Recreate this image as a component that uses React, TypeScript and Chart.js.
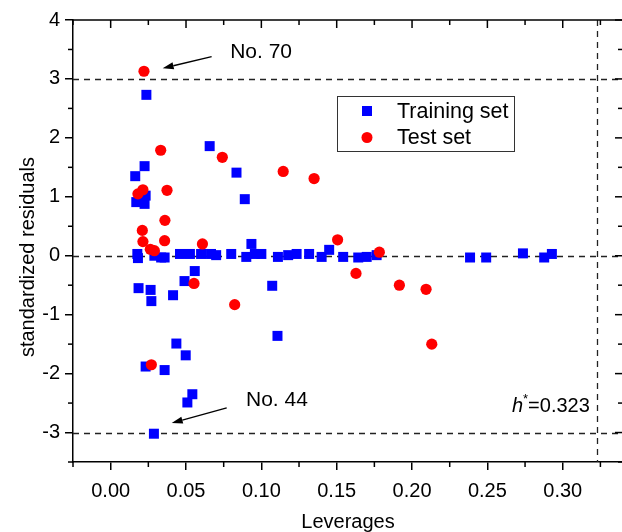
import React, { useEffect, useRef } from 'react';
import { Chart, registerables } from 'chart.js';

Chart.register(...registerables);

// ---------- data ----------
const trainingX = [
  0.0237, 0.0657, 0.0835, 0.0225, 0.0163, 0.089, 0.0232, 0.017, 0.0225,
  0.0177, 0.0181, 0.029, 0.0335, 0.0358, 0.046, 0.0526, 0.06, 0.0666, 0.07,
  0.08, 0.09, 0.0934, 0.0957, 0.1, 0.111, 0.1178, 0.1234, 0.1317, 0.14,
  0.145, 0.1543, 0.1643, 0.1699, 0.1765, 0.2385, 0.2492, 0.2736, 0.2877,
  0.2928, 0.0558, 0.049, 0.0185, 0.0265, 0.027, 0.0414, 0.0436, 0.0498,
  0.0232, 0.0358, 0.0542, 0.0509, 0.0287, 0.1072, 0.1107,
];
const trainingY = [
  2.73, 1.86, 1.41, 1.52, 1.35, 0.96, 1.02, 0.91, 0.88,
  0.03, -0.04, 0.0, -0.03, -0.03, 0.03, 0.03, 0.03, 0.03, 0.01,
  0.03, -0.02, 0.2, 0.03, 0.03, -0.02, 0.01, 0.03, 0.03, -0.02,
  0.1, -0.02, -0.03, -0.02, 0.01, -0.03, -0.03, 0.04, -0.03,
  0.03, -0.26, -0.43, -0.55, -0.58, -0.77, -0.67, -1.49, -1.69,
  -1.88, -1.94, -2.35, -2.49, -3.02, -0.51, -1.36,
];
const testX = [
  0.0221, 0.0332, 0.0741, 0.0181, 0.0214, 0.0374, 0.036, 0.021, 0.0214,
  0.0358, 0.0263, 0.029, 0.0609, 0.0553, 0.0823, 0.027, 0.1145, 0.135,
  0.1506, 0.1783, 0.1628, 0.1916, 0.2093, 0.2131,
];
const testY = [
  3.13, 1.79, 1.67, 1.05, 1.12, 1.11, 0.6, 0.43, 0.24,
  0.255, 0.11, 0.085, 0.2, -0.47, -0.83, -1.85, 1.43, 1.31,
  0.27, 0.06, -0.3, -0.5, -0.57, -1.5,
];

const seriesLabels = ['Training set', 'Test set'];
const xTickValues = [0, 0.05, 0.1, 0.15, 0.2, 0.25, 0.3];
const xMinorTicks = [-0.025, 0.025, 0.075, 0.125, 0.175, 0.225, 0.275, 0.325];
const yTickValues = [-3, -2, -1, 0, 1, 2, 3, 4];
const yMinorTicks = [-3.5, -2.5, -1.5, -0.5, 0.5, 1.5, 2.5, 3.5];
const refLinesY = [3, 0, -3];
const hStar = 0.323;
const xTitle = 'Leverages';
const yTitle = 'standardized residuals';

// annotations
const annotLabels = ['No. 70', 'No. 44'];
const annotTextX = [0.0793, 0.0898];
const annotTextY = [3.46, -2.45];
const arrowFromX = [0.067, 0.077];
const arrowFromY = [3.38, -2.58];
const arrowToX = [0.0345, 0.0405];
const arrowToY = [3.18, -2.84];
const hStarLabelX = 0.318;
const hStarLabelY = -2.53;

const FONT = '"Liberation Sans", Arial, Helvetica, sans-serif';
const BLUE = '#0000FF';
const RED = '#FF0000';

const decorPlugin = {
  id: 'decor',
  beforeDatasetsDraw(chart: any) {
    const { ctx, chartArea: a, scales } = chart;
    const x = scales.x;
    const y = scales.y;
    ctx.save();
    ctx.strokeStyle = '#222';
    ctx.lineWidth = 1.3;
    ctx.setLineDash([6, 5]);
    for (const v of refLinesY) {
      const py = Math.round(y.getPixelForValue(v)) + 0.5;
      ctx.beginPath();
      ctx.moveTo(a.left, py);
      ctx.lineTo(a.right, py);
      ctx.stroke();
    }
    const px = Math.round(x.getPixelForValue(hStar)) + 0.5;
    ctx.beginPath();
    ctx.moveTo(px, a.top);
    ctx.lineTo(px, a.bottom);
    ctx.stroke();
    ctx.restore();
  },
  afterDatasetsDraw(chart: any) {
    const { ctx, chartArea: a, scales } = chart;
    const x = scales.x;
    const y = scales.y;
    ctx.save();
    ctx.setLineDash([]);
    ctx.strokeStyle = '#000';
    ctx.lineWidth = 1.5;
    ctx.beginPath();
    ctx.moveTo(a.left, a.top);
    ctx.lineTo(a.right, a.top);
    ctx.lineTo(a.right, a.bottom);
    ctx.stroke();
    const tick = (x1: number, y1: number, x2: number, y2: number) => {
      ctx.beginPath();
      ctx.moveTo(x1, y1);
      ctx.lineTo(x2, y2);
      ctx.stroke();
    };
    for (const v of xMinorTicks) {
      const px = x.getPixelForValue(v);
      tick(px, a.bottom, px, a.bottom + 5);
      tick(px, a.top, px, a.top + 5);
    }
    for (const v of xTickValues) {
      const px = x.getPixelForValue(v);
      tick(px, a.top, px, a.top + 8);
    }
    for (const v of yMinorTicks) {
      const py = y.getPixelForValue(v);
      tick(a.left - 5, py, a.left, py);
      tick(a.right - 5, py, a.right, py);
    }
    for (const v of yTickValues) {
      const py = y.getPixelForValue(v);
      tick(a.right - 8, py, a.right, py);
    }

    ctx.fillStyle = '#000';
    ctx.font = `21px ${FONT}`;
    ctx.textBaseline = 'middle';
    ctx.textAlign = 'left';
    ctx.lineWidth = 1.3;
    for (let i = 0; i < annotLabels.length; i++) {
      ctx.fillText(annotLabels[i], x.getPixelForValue(annotTextX[i]), y.getPixelForValue(annotTextY[i]));
      const x1 = x.getPixelForValue(arrowFromX[i]);
      const y1 = y.getPixelForValue(arrowFromY[i]);
      const x2 = x.getPixelForValue(arrowToX[i]);
      const y2 = y.getPixelForValue(arrowToY[i]);
      const ang = Math.atan2(y2 - y1, x2 - x1);
      const hl = 11;
      const hw = 3.5;
      const bx = x2 - hl * Math.cos(ang);
      const by = y2 - hl * Math.sin(ang);
      tick(x1, y1, bx, by);
      ctx.beginPath();
      ctx.moveTo(x2, y2);
      ctx.lineTo(bx + hw * Math.sin(ang), by - hw * Math.cos(ang));
      ctx.lineTo(bx - hw * Math.sin(ang), by + hw * Math.cos(ang));
      ctx.closePath();
      ctx.fill();
    }

    const hy = y.getPixelForValue(hStarLabelY);
    const right = x.getPixelForValue(hStarLabelX);
    ctx.font = `italic 20px ${FONT}`;
    const wH = ctx.measureText('h').width;
    ctx.font = `13px ${FONT}`;
    const wS = ctx.measureText('*').width;
    ctx.font = `20px ${FONT}`;
    const wR = ctx.measureText('=0.323').width;
    let cx = right - (wH + wS + wR);
    ctx.textBaseline = 'alphabetic';
    const base = hy + 7;
    ctx.font = `italic 20px ${FONT}`;
    ctx.fillText('h', cx, base);
    cx += wH;
    ctx.font = `13px ${FONT}`;
    ctx.fillText('*', cx, base - 9);
    cx += wS;
    ctx.font = `20px ${FONT}`;
    ctx.fillText('=0.323', cx, base);

    const lx = a.left + 264;
    const ly = a.top + 76;
    ctx.strokeStyle = '#333';
    ctx.lineWidth = 1;
    ctx.strokeRect(Math.round(lx) + 0.5, Math.round(ly) + 0.5, 177, 55);
    const mx = lx + 30;
    const rows = [ly + 15, ly + 41.5];
    ctx.fillStyle = BLUE;
    ctx.fillRect(mx - 5, rows[0] - 5, 10, 10);
    ctx.fillStyle = RED;
    ctx.beginPath();
    ctx.arc(mx, rows[1], 5.5, 0, Math.PI * 2);
    ctx.fill();
    ctx.fillStyle = '#000';
    ctx.font = `21.5px ${FONT}`;
    ctx.textBaseline = 'middle';
    ctx.textAlign = 'left';
    ctx.fillText(seriesLabels[0], lx + 60, rows[0] + 1);
    ctx.fillText(seriesLabels[1], lx + 60, rows[1] + 1);

    ctx.save();
    ctx.font = `20px ${FONT}`;
    ctx.translate(a.left - 45, (a.top + a.bottom) / 2 + 16);
    ctx.rotate(-Math.PI / 2);
    ctx.textAlign = 'center';
    ctx.textBaseline = 'middle';
    ctx.fillText(yTitle, 0, 0);
    ctx.restore();

    ctx.restore();
  },
};

export default function App() {
  const canvasRef = useRef<HTMLCanvasElement | null>(null);

  useEffect(() => {
    const canvas = canvasRef.current;
    if (!canvas) return;
    const training = trainingX.map((v, i) => ({ x: v, y: trainingY[i] }));
    const test = testX.map((v, i) => ({ x: v, y: testY[i] }));
    const chart = new Chart(canvas, {
      type: 'scatter',
      data: {
        datasets: [
          {
            label: seriesLabels[0],
            data: training,
            pointStyle: 'rect',
            pointRadius: 7.07,
            pointHoverRadius: 7.07,
            backgroundColor: BLUE,
            borderColor: BLUE,
            borderWidth: 0,
            order: 1,
          },
          {
            label: seriesLabels[1],
            data: test,
            pointStyle: 'circle',
            pointRadius: 5.6,
            pointHoverRadius: 5.6,
            backgroundColor: RED,
            borderColor: RED,
            borderWidth: 0,
            order: 0,
          },
        ],
      },
      options: {
        responsive: false,
        animation: false,
        devicePixelRatio: 1,
        layout: { padding: { top: 20, right: 17, left: 0, bottom: 0 } },
        plugins: {
          legend: { display: false },
          tooltip: { enabled: false },
        },
        scales: {
          x: {
            type: 'linear',
            min: -0.025,
            max: 0.34,
            afterFit: (s: any) => { s.height = 70; },
            afterBuildTicks: (s: any) => { s.ticks = xTickValues.map((v) => ({ value: v })); },
            grid: { display: true, drawOnChartArea: false, drawTicks: true, tickLength: 8, color: '#000', lineWidth: 1.5 },
            border: { display: true, color: '#000', width: 1.5 },
            ticks: {
              color: '#000',
              font: { family: FONT, size: 20 },
              padding: 9,
              maxRotation: 0,
              autoSkip: false,
              callback: (v: any) => Number(v).toFixed(2),
            },
            title: {
              display: true,
              text: xTitle,
              color: '#000',
              font: { family: FONT, size: 20 },
              padding: { top: 0, bottom: -2 },
            },
          },
          y: {
            type: 'linear',
            min: -3.5,
            max: 4,
            afterFit: (s: any) => { s.width = 73; },
            afterBuildTicks: (s: any) => { s.ticks = yTickValues.map((v) => ({ value: v })); },
            grid: { display: true, drawOnChartArea: false, drawTicks: true, tickLength: 8, color: '#000', lineWidth: 1.5 },
            border: { display: true, color: '#000', width: 1.5 },
            ticks: {
              color: '#000',
              font: { family: FONT, size: 20 },
              padding: 5,
              autoSkip: false,
              callback: (v: any) => String(v),
            },
          },
        },
      },
      plugins: [decorPlugin],
    });
    return () => chart.destroy();
  }, []);

  return (
    <div style={{ position: 'fixed', left: 0, top: 0, width: 622, height: 532, overflow: 'hidden', background: '#fff' }}>
      <canvas ref={canvasRef} width={640} height={532} style={{ display: 'block', width: 640, height: 532 }} />
    </div>
  );
}
